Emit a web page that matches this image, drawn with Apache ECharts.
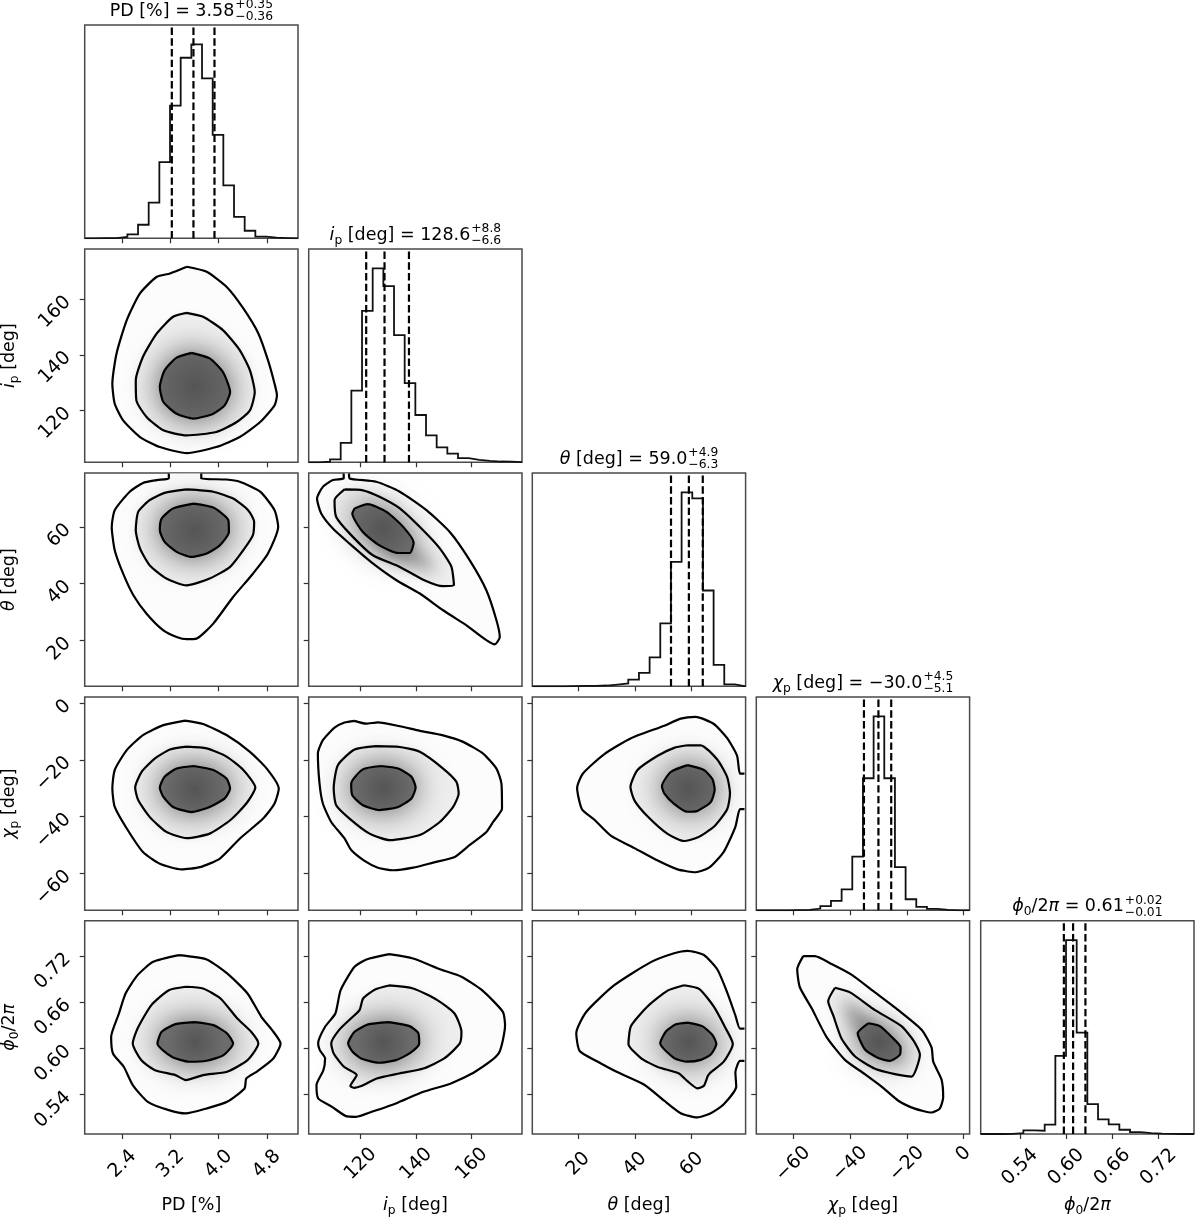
<!DOCTYPE html>
<html><head><meta charset="utf-8"><style>html,body{margin:0;padding:0;background:#fff}#c{width:1200px;height:1217px}</style>
<script src="https://cdn.jsdelivr.net/npm/echarts@6/dist/echarts.min.js"></script></head><body><div id="c"></div>
<script>
const rangePD=[1.77,5.32], rangeIp=[101.3,178.1], rangeTheta=[3.8,79], rangeChi=[-73,2.1], rangePhi=[0.489,0.766];
const ticksPD=[2.4,3.2,4.0,4.8], ticksIp=[120,140,160], ticksTheta=[20,40,60], ticksChi=[-60,-40,-20,0], ticksPhi=[0.54,0.60,0.66,0.72];

const histPD=[0,0.05,0.1,0.7,2,7,18.4,39.3,68.4,93.1,100,82.5,53.3,27.3,11.1,3.9,0.9,0.3,0.1,0];
const histIp=[0,0.3,1.5,10,37,78.1,100,90.9,65.6,40.8,24.4,13.9,7.7,4.5,2.2,1.2,0.7,0.4,0.3,0.1];
const histTheta=[0,0,0,0.1,0.2,0.2,0.4,0.9,1.5,3.4,6.9,14.9,32.4,64.2,100,96.9,49.4,11.1,1,0];
const histChi=[0,0,0,0.1,0.2,0.9,2.2,4.9,10.8,27.7,68.1,100,68.1,22.3,5.7,1.8,0.7,0.2,0,0];
const histPhi=[0,0,0.1,0.5,1.9,1.7,4.8,40.3,100,52.3,15.4,7.5,5,2.2,1,0.5,0.2,0.1,0,0];
const quantPD=[3.22,3.58,3.93], quantIp=[122,128.6,137.4], quantTheta=[52.7,59,63.9], quantChi=[-35.1,-30,-25.5], quantPhi=[0.597,0.609,0.625];

const ipPD_outer=[[3.47,171.7],[3.80,169.9],[4.13,164.5],[4.41,156.7],[4.66,147.7],[4.82,138.1],[4.93,129.6],[4.97,125.4],[4.93,121.8],[4.69,115.8],[4.35,110.4],[3.96,106.8],[3.47,104.6],[3.02,106.8],[2.69,110.4],[2.41,116.4],[2.27,122.4],[2.23,129.6],[2.30,140.5],[2.47,152.5],[2.69,162.1],[2.97,168.1],[3.19,169.3]];
const ipPD_mid=[[3.465,155.1],[3.74,153.7],[4.07,148.9],[4.35,141.7],[4.52,134.4],[4.60,126.6],[4.52,120],[4.30,115.8],[3.96,112.2],[3.465,111],[3.08,112.8],[2.80,117.6],[2.63,123.6],[2.62,130.8],[2.74,139.3],[2.97,147.7],[3.24,153.7]];
const ipPD_inner=[[3.55,140.7],[3.85,138.7],[4.07,133.8],[4.19,126.6],[4.10,121.8],[3.91,118.8],[3.58,117],[3.30,118.8],[3.08,123],[3.02,128.4],[3.10,134.4],[3.30,139]];

const thetaPD_outer=[[3.17,78.8],[3.17,77.1],[2.97,76.5],[2.74,75.5],[2.52,72.4],[2.27,65.9],[2.22,60],[2.27,51.8],[2.41,43.5],[2.58,35.9],[2.80,29.4],[3.08,23.5],[3.30,21.2],[3.465,20.4],[3.63,20.6],[3.91,25.9],[4.24,35.3],[4.57,43.5],[4.82,50.6],[4.99,60],[4.93,65.9],[4.69,72.4],[4.35,75.9],[4.13,76.7],[3.71,77.1],[3.71,78.8]];
const thetaPD_mid=[[3.465,73.2],[3.91,72.4],[4.24,70],[4.49,65.9],[4.59,61.8],[4.57,57.1],[4.41,51.8],[4.19,45.9],[3.85,41.8],[3.465,39.4],[3.13,41.8],[2.85,46.5],[2.69,52.4],[2.62,58.8],[2.66,65.3],[2.85,69.4],[3.10,72]];
const thetaPD_inner=[[3.58,68.2],[3.91,66.8],[4.16,62.4],[4.17,58.2],[4.02,53.5],[3.80,50.6],[3.55,49.4],[3.30,51.2],[3.10,54.7],[3.02,58.8],[3.05,62.9],[3.24,66.5]];

const chiPD_outer=[[3.44,-6.2],[3.74,-7.4],[4.13,-11.3],[4.52,-17.2],[4.80,-23.1],[5.00,-30.1],[4.93,-35.4],[4.74,-40.7],[4.35,-47.8],[4.02,-54.8],[3.69,-57.8],[3.38,-58.6],[3.02,-56.6],[2.74,-52.5],[2.47,-44.2],[2.27,-36.6],[2.23,-30.1],[2.27,-23.6],[2.47,-16.6],[2.74,-11.3],[3.08,-7.8]];
const chiPD_mid=[[3.465,-15.4],[3.80,-16],[4.13,-18.9],[4.41,-23.6],[4.61,-29.8],[4.46,-35.4],[4.19,-41.3],[3.85,-46],[3.465,-47.6],[3.13,-45.4],[2.85,-40.1],[2.66,-34.2],[2.61,-29.8],[2.72,-24.2],[2.94,-19.5],[3.19,-16.4]];
const chiPD_inner=[[3.58,-22.2],[3.91,-23.6],[4.13,-26.6],[4.19,-30.1],[4.10,-33.6],[3.85,-36.6],[3.55,-38.4],[3.24,-36.6],[3.08,-33.1],[3.02,-29.8],[3.10,-26],[3.30,-23.1]];

const phiPD_outer=[[3.34,.7213],[3.80,.7157],[4.14,.6975],[4.48,.6715],[4.71,.6412],[4.89,.6239],[5.03,.6066],[4.91,.5871],[4.63,.5698],[4.46,.5611],[4.43,.5481],[4.14,.5308],[3.80,.5222],[3.45,.5157],[3.17,.52],[2.82,.5308],[2.57,.5525],[2.42,.5763],[2.24,.5936],[2.21,.6152],[2.34,.6455],[2.45,.6715],[2.65,.6953],[2.91,.7126]];
const phiPD_mid=[[3.45,.6802],[3.74,.678],[4.03,.665],[4.31,.639],[4.54,.6217],[4.66,.6066],[4.48,.585],[4.14,.5698],[3.74,.5655],[3.45,.559],[3.28,.5655],[2.94,.5719],[2.71,.585],[2.57,.6066],[2.65,.6261],[2.88,.6564],[3.17,.6758]];
const phiPD_inner=[[3.60,.6343],[3.91,.6304],[4.14,.6196],[4.24,.6066],[4.08,.5914],[3.80,.5841],[3.51,.5828],[3.22,.5893],[2.98,.6066],[3.05,.6217],[3.28,.6317]];

const thetaIp_outer=[[113.9,78.8],[113.9,77.1],[110,76.5],[106.4,74.1],[104.3,70],[105.8,64.7],[110,59.4],[116,54.1],[123.8,47.6],[132.9,41.2],[141.3,36.5],[149.7,30.6],[158.1,25.3],[168.3,18.6],[170.1,21.2],[168.9,27.1],[165.3,37.6],[159.3,48.2],[152.1,58.2],[143.7,65.9],[134.1,72.4],[125.6,75.9],[116,77.1],[115.8,78.8]];
const thetaIp_mid=[[114.2,73.2],[120.8,72.9],[126.8,70.6],[134.1,66.5],[142.5,58.8],[148.5,52.4],[152.7,45.9],[153.6,39.4],[149.7,39.1],[142.5,41.4],[134.1,45.9],[124.4,50],[116.6,57.1],[111.2,63.5],[110.6,69.4]];
const thetaIp_inner=[[117.8,66.5],[122.6,68],[129.3,65.3],[135.3,60],[139.1,54.4],[137.7,50.8],[133.5,50.8],[126.8,53.5],[120.8,58.2],[117,64.7]];
const thetaIp_tail=[[122,62],[135,56],[146,47],[148,44],[140,46],[130,50]];

const chiIp_outer=[[117.8,-6.3],[122,-7.3],[126.2,-6.8],[134.1,-8.2],[141.3,-9.8],[149.7,-11.4],[156.9,-13.7],[164.1,-17.8],[168.9,-23.1],[170.7,-28.4],[170.9,-37.2],[167.7,-41.9],[165.3,-45.4],[159.3,-50],[153.9,-54.2],[146.1,-56.2],[138.9,-58],[131.7,-58.9],[126.2,-58],[121.4,-55.6],[116.6,-51.8],[114.2,-47.7],[109.4,-41.9],[106.4,-35.4],[105.2,-28.4],[104.6,-17.8],[106.4,-13.1],[110.6,-8.7],[114.2,-6.9]];
const chiIp_mid=[[125.6,-15.2],[134.1,-15.5],[141.3,-17.2],[149.7,-23.1],[154.5,-27.8],[155.3,-31.9],[153.3,-36.6],[148.5,-41.9],[141.3,-46.5],[130.5,-48.3],[123.2,-46],[116,-40.7],[111.2,-36],[110.3,-30.1],[111.8,-21.9],[117.8,-16.4]];
const chiIp_inner=[[127.4,-22.2],[133.5,-23.1],[138.3,-26],[139.8,-29.8],[138.3,-33.6],[133.5,-36.6],[126.8,-37.7],[120.8,-36],[117,-32.5],[116.6,-28.4],[120.8,-23.4]];

const phiIp_outer=[[130.2,.7226],[138.9,.717],[148.8,.7027],[156.3,.6932],[163.7,.6758],[171.2,.6477],[172,.6304],[169.7,.5936],[161.2,.5698],[152.5,.5546],[142.6,.5438],[132.7,.5287],[124,.5178],[118.4,.5113],[114.7,.5122],[109.7,.5243],[104.7,.5352],[104.1,.5525],[106.6,.5719],[107.2,.5871],[105.3,.5979],[104.7,.6066],[107.2,.6282],[110.9,.6455],[112.8,.6758],[117.8,.7061],[122.1,.7157]];
const phiIp_mid=[[130.2,.6819],[138.9,.678],[147.6,.6629],[153.8,.6455],[156.3,.6217],[155.7,.6066],[150.1,.5871],[142.6,.5741],[133.9,.5676],[125.8,.5611],[120.2,.5512],[117.8,.549],[116.3,.5512],[118.6,.5655],[114,.5763],[110.3,.5936],[109.4,.6066],[112.2,.6239],[116.5,.639],[119.6,.6499],[120.9,.665],[125.2,.6767]];
const phiIp_inner=[[130.2,.6343],[137.6,.6291],[140.7,.6204],[141.1,.6066],[137.6,.5936],[132.7,.5849],[126.5,.5815],[120.2,.5871],[117.1,.5958],[115.5,.6066],[117.8,.6217],[122.7,.6313]];

const chiTheta_outer=[[78.6,-37.4],[77,-37.4],[75.4,-43.6],[71.3,-52.4],[66.1,-58],[61.4,-59.6],[55,-58.6],[48,-55.5],[39.8,-51.1],[31.6,-46.8],[25.7,-41.1],[21.3,-37.4],[19.6,-29.9],[21.6,-24.9],[29.2,-18],[38.6,-12.4],[50.3,-8],[56.1,-5.5],[61.4,-4.9],[67.8,-7.4],[72.5,-12.4],[76,-18.6],[77,-24.9],[78.6,-24.9]];
const chiTheta_mid=[[58.5,-14.9],[63.2,-14.9],[69,-19.9],[72.5,-26.1],[73.5,-31.8],[72.5,-37.4],[67.8,-43.6],[62,-47.4],[57.3,-48.6],[51.5,-46.1],[44.4,-39.9],[39.8,-34.3],[38.4,-29.6],[40.9,-23.6],[48,-18.6],[53.8,-15.8]];
const chiTheta_inner=[[58.5,-21.9],[64.3,-23.6],[67.3,-26.8],[68.1,-30.5],[66.7,-34.9],[62,-38],[58.5,-38.3],[53.8,-35.5],[50.3,-31.8],[49.5,-29.3],[52.6,-24.3]];

const phiTheta_outer=[[78.6,.5839],[77,.5839],[75.4,.5691],[75.7,.5506],[71.3,.5276],[66.7,.516],[62,.5105],[56.1,.516],[50.3,.5322],[43.3,.553],[33.9,.5691],[26.9,.5829],[20.5,.5968],[19.3,.6199],[22.8,.6475],[32.7,.6822],[45.6,.7122],[53.8,.7237],[58.5,.7269],[64.3,.7214],[69,.7029],[72.5,.6729],[75.4,.6429],[77,.6259],[78.6,.6259]];
const phiTheta_mid=[[57.3,.6822],[62.6,.6775],[67.8,.6545],[71.9,.6268],[74.5,.606],[71.3,.5829],[66.7,.5691],[65.7,.5645],[64.3,.5516],[62,.5483],[58.5,.5576],[55.5,.5677],[48,.576],[42.1,.5876],[37.7,.606],[38.6,.6291],[44.4,.6545],[51.5,.6752]];
const phiTheta_inner=[[58.5,.6337],[63.7,.6291],[67.3,.6176],[68.7,.606],[66.7,.5922],[63.2,.5853],[58.5,.5829],[53.8,.5876],[48.9,.6069],[50.9,.6222],[54.4,.6314]];

const phiChi_outer=[[-56.5,.72],[-52.4,.72],[-46.5,.7098],[-39.5,.696],[-31.2,.6729],[-23,.6499],[-14.8,.6245],[-11.3,.6014],[-10.7,.5829],[-7.8,.5599],[-7.2,.5368],[-8.4,.522],[-11.3,.5169],[-17.2,.522],[-23,.5322],[-28.9,.5506],[-34.8,.5668],[-41.8,.5853],[-48.3,.6152],[-53.5,.6522],[-57.7,.6799],[-58.6,.7029]];
const phiChi_mid=[[-45.3,.6789],[-40,.6729],[-31.2,.6499],[-21.9,.6291],[-17.7,.6106],[-15.4,.5922],[-18.3,.5636],[-24.2,.5668],[-31.2,.5737],[-38.3,.5899],[-43,.613],[-45.9,.6429],[-47.7,.6614]];
const phiChi_inner=[[-33.6,.6328],[-29.5,.6291],[-25.4,.6152],[-22.2,.6014],[-22.4,.5922],[-26,.5839],[-30.1,.5876],[-34.8,.5991],[-37.3,.6199]];
const phiChi_tail=[[-43,.668],[-35,.645],[-24,.605],[-20,.585],[-25,.585],[-33,.605],[-41,.64]];

const params=[
 {range:rangePD,ticks:ticksPD,dec:1,hist:histPD,q:quantPD,xm:30},
 {range:rangeIp,ticks:ticksIp,dec:0,hist:histIp,q:quantIp,xm:30},
 {range:rangeTheta,ticks:ticksTheta,dec:0,hist:histTheta,q:quantTheta,xm:30},
 {range:rangeChi,ticks:ticksChi,dec:0,hist:histChi,q:quantChi,xm:30},
 {range:rangePhi,ticks:ticksPhi,dec:2,hist:histPhi,q:quantPhi,xm:33}];
const contours={
 '1,0':[ipPD_outer,ipPD_mid,ipPD_inner,true],
 '2,0':[thetaPD_outer,thetaPD_mid,thetaPD_inner,false],
 '3,0':[chiPD_outer,chiPD_mid,chiPD_inner,true],
 '4,0':[phiPD_outer,phiPD_mid,phiPD_inner,true],
 '2,1':[thetaIp_outer,thetaIp_mid,thetaIp_inner,false,thetaIp_tail],
 '3,1':[chiIp_outer,chiIp_mid,chiIp_inner,true],
 '4,1':[phiIp_outer,phiIp_mid,phiIp_inner,true],
 '3,2':[chiTheta_outer,chiTheta_mid,chiTheta_inner,false],
 '4,2':[phiTheta_outer,phiTheta_mid,phiTheta_inner,false],
 '4,3':[phiChi_outer,phiChi_mid,phiChi_inner,true,phiChi_tail]};

const colX=[84.7,308.7,532.3,756.3,980.7], rowY=[25,249,473,697,920.7], SIZE=213.3;
const FONT='"DejaVu Sans"', LABEL=19, TXT=17.5, OFF=3000;
const INK='#000', SPINE='#4a4a4a';

const meas=document.createElement('canvas').getContext('2d');
function fnt(size,it){return (it?'italic ':'')+size+'px '+FONT;}
function w(t,size,it){meas.font=fnt(size,it);return meas.measureText(t).width;}
function mathText(cx,cy,pieces,rot){
  let total=0;
  pieces.forEach(p=>{
    if(p.sup){p.adv=Math.max(w(p.sup,12.3),w(p.sub,12.3))+1;}
    else{p.size=p.small?TXT*0.7:TXT;p.adv=w(p.t,p.size,p.it);}
    total+=p.adv;});
  let x=-total/2;const ch=[];
  const T=(t,xx,yy,size,it)=>ch.push({type:'text',silent:true,style:{text:t,x:xx,y:yy,font:fnt(size,it),fill:INK,align:'left',verticalAlign:'middle'}});
  pieces.forEach(p=>{
    if(p.sup){T(p.sup,x+1,-12.3,12.3);T(p.sub,x+1,-0.5,12.3);}
    else{T(p.t,x,(p.small?3.5:0)-p.size*0.37,p.size,p.it);}
    x+=p.adv;});
  return {type:'group',x:cx,y:cy,rotation:rot||0,silent:true,children:ch};
}
const I={t:'i',it:1},P={t:'p',small:1},TH={t:'θ',it:1},CH={t:'χ',it:1},PH={t:'ϕ',it:1},Z={t:'0',small:1},PI={t:'π',it:1};
const names=[[{t:'PD [%]'}],[I,P,{t:' [deg]'}],[TH,{t:' [deg]'}],[CH,P,{t:' [deg]'}],[PH,Z,{t:'/2'},PI]];
const titles=[
 [{t:'PD [%] = 3.58'},{sup:'+0.35',sub:'−0.36'}],
 [I,P,{t:' [deg] = 128.6'},{sup:'+8.8',sub:'−6.6'}],
 [TH,{t:' [deg] = 59.0'},{sup:'+4.9',sub:'−6.3'}],
 [CH,P,{t:' [deg] = −30.0'},{sup:'+4.5',sub:'−5.1'}],
 [PH,Z,{t:'/2'},PI,{t:' = 0.61'},{sup:'+0.02',sub:'−0.01'}]];

const grids=[],xAxes=[],yAxes=[],series=[],graphic=[];
const labelOf=(v,d)=>v.toFixed(d).replace('-','−');
function close(a){return a.concat([a[0]]);}
for(let i=0;i<5;i++)for(let j=0;j<=i;j++){
  const g=grids.length;
  grids.push({left:colX[j],top:rowY[i],width:SIZE,height:SIZE,show:true,borderColor:SPINE,borderWidth:1.5,backgroundColor:'#fff',containLabel:false});
  const px=params[j],py=params[i],bottom=i===4,left=j===0&&i>0,diag=i===j;
  xAxes.push({gridIndex:g,type:'value',min:px.range[0],max:px.range[1],splitLine:{show:false},axisLine:{show:false,onZero:false},
    axisTick:{show:true,length:5,lineStyle:{color:'#333',width:1.2},customValues:px.ticks},
    axisLabel:{show:bottom,customValues:px.ticks,rotate:45,align:'center',verticalAlign:'middle',margin:px.xm,hideOverlap:false,
      color:INK,fontFamily:FONT,fontSize:LABEL,
      formatter:v=>v===0?'{z|0}':labelOf(v,px.dec),
      rich:{z:{fontFamily:FONT,fontSize:LABEL,color:INK,padding:[0,0,14,14]}}}});
  yAxes.push(diag?{gridIndex:g,type:'value',min:0,max:110,show:false}:
   {gridIndex:g,type:'value',min:py.range[0],max:py.range[1],splitLine:{show:false},axisLine:{show:false,onZero:false},
    axisTick:{show:true,length:5,lineStyle:{color:'#333',width:1.2},customValues:py.ticks},
    axisLabel:{show:left,customValues:py.ticks,rotate:45,margin:17,hideOverlap:false,color:INK,fontFamily:FONT,fontSize:LABEL,
      formatter:v=>labelOf(v,py.dec)}});
  if(diag){
    const step=(px.range[1]-px.range[0])/px.hist.length,pts=[];
    px.hist.forEach((h,k)=>{pts.push([px.range[0]+k*step,h],[px.range[0]+(k+1)*step,h]);});
    series.push({type:'line',xAxisIndex:g,yAxisIndex:g,data:pts,showSymbol:false,silent:true,animation:false,lineStyle:{color:'#111',width:1.8,join:'miter'},z:3});
    px.q.forEach(v=>series.push({type:'line',xAxisIndex:g,yAxisIndex:g,data:[[v,0],[v,110]],showSymbol:false,silent:true,animation:false,lineStyle:{color:'#000',width:2.2,type:[7.4,3.3]},z:4}));
    graphic.push(mathText(colX[j]+SIZE/2,rowY[i]-7.5,titles[i].map(p=>Object.assign({},p))));
  } else {
    const [o,m,n,closedO,tail]=contours[i+','+j];
    series.push({type:'custom',xAxisIndex:g,yAxisIndex:g,coordinateSystem:'cartesian2d',silent:true,animation:false,clip:true,z:2,
      data:[n[0]],
      renderItem:(params_,api)=>{
        const map=a=>a.map(p=>api.coord(p));
        const kids=[
          {type:'polygon',shape:{points:map(o)},style:{fill:'#fcfcfc'}},
          {type:'polygon',shape:{points:map(m)},style:{fill:'#eeeeee',shadowBlur:8,shadowColor:'rgba(0,0,0,0.04)'}}];
        if(tail) kids.push({type:'polygon',shape:{points:map(tail).map(q=>[q[0]-OFF,q[1]])},style:{fill:'#000',shadowOffsetX:OFF,shadowBlur:16,shadowColor:'rgba(90,90,90,0.6)'}});
        kids.push({type:'polygon',shape:{points:map(n)},style:{fill:new echarts.graphic.RadialGradient(0.5,0.5,0.7,[{offset:0,color:'#555555'},{offset:1,color:'#6c6c6c'}]),shadowBlur:34,shadowColor:'rgba(40,40,40,0.85)'}});
        return {type:'group',children:kids};
      }});
    [closedO?close(o):o,close(m),close(n)].forEach(d=>series.push({type:'line',xAxisIndex:g,yAxisIndex:g,data:d,showSymbol:false,smooth:0.2,silent:true,animation:false,lineStyle:{color:'#000',width:2.2},z:5}));
  }
}
for(let k=0;k<5;k++){
  graphic.push(mathText(colX[k]+SIZE/2,1211.5,names[k].map(p=>Object.assign({},p))));
  if(k>0) graphic.push(mathText(16,rowY[k]+SIZE/2,names[k].map(p=>Object.assign({},p)),Math.PI/2));
}
const chart=echarts.init(document.getElementById('c'),null,{renderer:'canvas',width:1200,height:1217});
chart.setOption({animation:false,backgroundColor:'#fff',grid:grids,xAxis:xAxes,yAxis:yAxes,series:series,graphic:{elements:graphic}});
</script></body></html>
